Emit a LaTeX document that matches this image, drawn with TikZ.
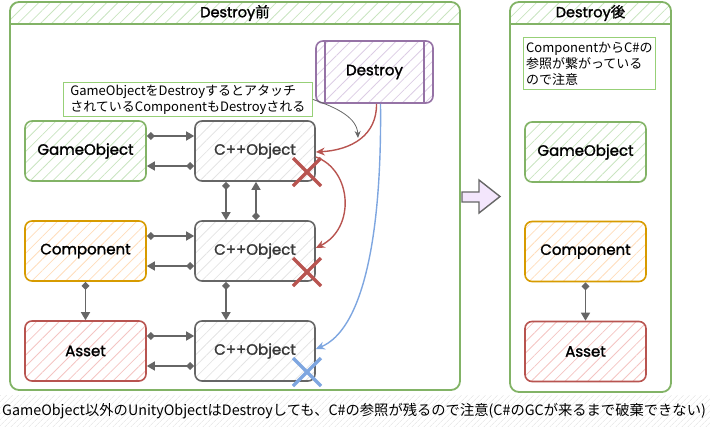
\documentclass[tikz,border=0pt]{standalone}
\usepackage{fontspec}
\setmainfont{Poppins}
\newfontfamily\lab[FakeBold=1.6]{Poppins}
\newfontfamily\jp{Noto Sans CJK JP}
\newfontfamily\jpb[FakeBold=1.2]{Noto Sans CJK JP}
\usetikzlibrary{arrows.meta,patterns.meta}
\definecolor{gS}{HTML}{82B366}\definecolor{gF}{HTML}{C9E4C0}
\definecolor{oS}{HTML}{D79B00}\definecolor{oF}{HTML}{FFDDBB}
\definecolor{rS}{HTML}{B85450}\definecolor{rF}{HTML}{F4C4C2}
\definecolor{pS}{HTML}{9673A6}\definecolor{pF}{HTML}{DCCDE4}
\definecolor{kS}{HTML}{666666}\definecolor{kF}{HTML}{E4E4E4}
\definecolor{bS}{HTML}{7EA6E0}\definecolor{nS}{HTML}{97D077}
\definecolor{aF}{HTML}{F3E6FC}
\tikzset{
  hatch/.style={pattern={Lines[angle=45,distance=8pt,line width=0.8pt]},pattern color=#1},
  box/.style={rounded corners=7pt,line width=1.6pt,minimum width=121pt,minimum height=60pt,inner sep=0pt,
    font=\lab\fontsize{15}{18}\selectfont},
  gobox/.style={box,draw=gS,hatch=gF},
  cobox/.style={box,draw=oS,hatch=oF},
  asbox/.style={box,draw=rS,hatch=rF},
  cpbox/.style={box,draw=kS,hatch=kF,text=black!78,minimum width=120pt},
  conn/.style={draw=kS,line width=1.5pt,arrows={Diamond[length=8pt,width=8pt]-Triangle[length=8pt,width=9pt]}},
  curv/.style={line width=1.4pt,-{Stealth[length=9pt,width=8pt]}},
  xmark/.style={line width=3.5pt},
  note/.style={draw=nS,line width=0.8pt,inner sep=1pt,align=left,font=\jp\fontsize{13}{16}\selectfont},
  cont/.style={draw=gS,line width=1.8pt,rounded corners=9pt,inner sep=0pt},
  ttl/.style={font=\lab\fontsize{14.5}{16}\selectfont}
}
\begin{document}
\begin{tikzpicture}[x=1pt,y=-1pt]
\useasboundingbox (0,0) rectangle (710,426);
% containers
\begin{scope}
\clip[rounded corners=9pt] (10,2) rectangle (460,390);
\fill[hatch=gF] (10,2) rectangle (460,24);
\end{scope}
\node[cont,minimum width=450pt,minimum height=388pt] (left) at (235,196) {};
\draw[gS,line width=1.8pt] (10,24) -- (460,24);
\node[ttl] (lt) at (235,13) {Destroy{\jpb 前}};
\begin{scope}
\clip[rounded corners=9pt] (510,2) rectangle (671,392);
\fill[hatch=gF] (510,2) rectangle (671,24);
\end{scope}
\node[cont,minimum width=161pt,minimum height=390pt] (right) at (590.5,197) {};
\draw[gS,line width=1.8pt] (510,24) -- (671,24);
\node[ttl] (rt) at (590.5,13) {Destroy{\jpb 後}};
% bottom band
\fill[pattern={Lines[angle=45,distance=4pt,line width=0.6pt]},pattern color=black!12] (0,395) rectangle (710,426);
\node[anchor=west,inner sep=0pt,font=\jp\fontsize{14.3}{16}\selectfont] (cap) at (2,411)
  {GameObject以外のUnityObjectはDestroyしても、C\#の参照が残るので注意(C\#のGCが来るまで破棄できない)};
% destroy node
\node[box,draw=pS,hatch=pF,minimum width=117pt,minimum height=62pt] (dst) at (374.5,72) {Destroy};
\draw[pS,line width=1.6pt] ([xshift=10pt]dst.north west) -- ([xshift=10pt]dst.south west);
\draw[pS,line width=1.6pt] ([xshift=-10pt]dst.north east) -- ([xshift=-10pt]dst.south east);
% annotation
\node[note,minimum width=249pt,minimum height=34pt,anchor=north west] (ann) at (63,82)
  {GameObjectをDestroyするとアタッチ\\されているComponentもDestroyされる};
% left nodes
\node[gobox] (go) at (85.5,151) {GameObject};
\node[cobox] (co) at (85.5,251) {Component};
\node[asbox] (as) at (85.5,351) {Asset};
\node[cpbox] (c1) at (255,151) {C++Object};
\node[cpbox] (c2) at (255,251) {C++Object};
\node[cpbox] (c3) at (255,351) {C++Object};
% connectors
\draw[conn] ([yshift=15pt]go.east) -- ([yshift=15pt]c1.west);
\draw[conn] ([yshift=-15pt]c1.west) -- ([yshift=-15pt]go.east);
\draw[conn] ([yshift=15pt]co.east) -- ([yshift=15pt]c2.west);
\draw[conn] ([yshift=-15pt]c2.west) -- ([yshift=-15pt]co.east);
\draw[conn] ([yshift=15pt]as.east) -- ([yshift=15pt]c3.west);
\draw[conn] ([yshift=-15pt]c3.west) -- ([yshift=-15pt]as.east);
\draw[conn] ([xshift=-29pt]c1.south) -- ([xshift=-29pt]c2.north);
\draw[conn] ([xshift=1pt]c2.north) -- ([xshift=1pt]c1.south);
\draw[conn] ([xshift=-29pt]c2.south) -- ([xshift=-29pt]c3.north);
\draw[conn] (co.south) -- (as.north);
% curves
\draw[curv,kS,line width=0.8pt,-{Stealth[length=7pt,width=6pt]}] (ann.east) .. controls (338,108) and (357,118) .. (358,138);
\draw[curv,rS] ([xshift=2pt]dst.south) .. controls (377,135) and (352,150) .. ([yshift=-1pt]c1.east);
\draw[curv,rS] ([yshift=-6pt]c1.east) .. controls (352,170) and (356,228) .. ([yshift=3pt]c2.east);
\draw[curv,bS] ([xshift=6pt]dst.south) .. controls (382,240) and (362,330) .. ([yshift=2pt]c3.east);
% X marks
\draw[xmark,rS] (293,158) -- (321,186) (321,158) -- (293,186);
\draw[xmark,rS] (293,258) -- (321,286) (321,258) -- (293,286);
\draw[xmark,bS] (293,358) -- (321,386) (321,358) -- (293,386);
% block arrow
\draw[kS,fill=aF,line width=1.4pt] (462,192) -- (479,192) -- (479,180) -- (500,196.5) -- (479,213) -- (479,202) -- (462,202) -- cycle;
% right side
\node[note,minimum width=132pt,minimum height=52pt,anchor=north west,font=\jp\fontsize{13}{16}\selectfont] (rn) at (523,37)
  {ComponentからC\#の\\参照が繋がっている\\ので注意};
\node[gobox] (go2) at (585.5,152) {GameObject};
\node[cobox] (co2) at (585.5,251.5) {Component};
\node[asbox] (as2) at (585.5,351.5) {Asset};
\draw[conn] (co2.south) -- (as2.north);
\end{tikzpicture}
\end{document}
